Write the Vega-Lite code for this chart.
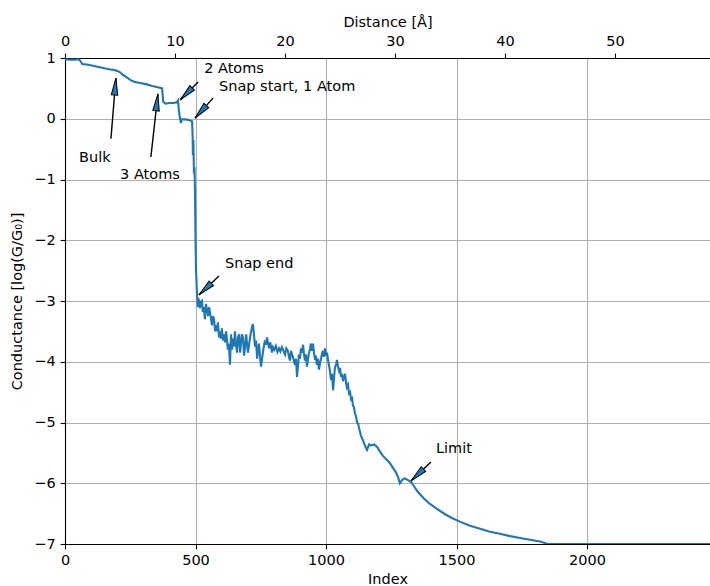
{
  "$schema": "https://vega.github.io/schema/vega-lite/v6.json",
  "width": 645,
  "height": 486,
  "autosize": {"type": "none"},
  "padding": {"left": 65, "top": 58, "right": 0, "bottom": 42},
  "background": "white",
  "config": {
    "view": {"stroke": null},
    "font": "DejaVu Sans",
    "axis": {
      "domainColor": "black",
      "domainWidth": 1.1,
      "tickColor": "black",
      "tickWidth": 1.1,
      "tickSize": 4.9,
      "labelFont": "DejaVu Sans",
      "labelFontSize": 14.5,
      "labelColor": "black",
      "labelPadding": 4.9,
      "labelFlush": false,
      "labelOverlap": false,
      "titleFont": "DejaVu Sans",
      "titleFontSize": 14.5,
      "titleFontWeight": "normal",
      "titleColor": "black",
      "gridColor": "#b0b0b0",
      "gridWidth": 1.1
    }
  },
  "datasets": {
    "trace": [
      {"index": 0, "logG": 0.98}, {"index": 20, "logG": 0.97}, {"index": 40, "logG": 0.97},
      {"index": 50, "logG": 0.98}, {"index": 57, "logG": 0.96}, {"index": 62, "logG": 0.93},
      {"index": 66, "logG": 0.9}, {"index": 90, "logG": 0.89}, {"index": 120, "logG": 0.86},
      {"index": 150, "logG": 0.83}, {"index": 175, "logG": 0.81}, {"index": 190, "logG": 0.8},
      {"index": 205, "logG": 0.78}, {"index": 212, "logG": 0.76}, {"index": 222, "logG": 0.72},
      {"index": 237, "logG": 0.68}, {"index": 250, "logG": 0.64}, {"index": 265, "logG": 0.61},
      {"index": 287, "logG": 0.59}, {"index": 310, "logG": 0.57}, {"index": 335, "logG": 0.54},
      {"index": 355, "logG": 0.52}, {"index": 372, "logG": 0.5}, {"index": 374, "logG": 0.4},
      {"index": 376, "logG": 0.28}, {"index": 385, "logG": 0.25}, {"index": 400, "logG": 0.26},
      {"index": 415, "logG": 0.26}, {"index": 428, "logG": 0.27}, {"index": 433, "logG": 0.3},
      {"index": 436, "logG": 0.15}, {"index": 440, "logG": 0.02}, {"index": 444, "logG": -0.07},
      {"index": 447, "logG": -0.01}, {"index": 460, "logG": -0.01}, {"index": 475, "logG": -0.02},
      {"index": 487, "logG": -0.04}, {"index": 489, "logG": -0.3}, {"index": 490, "logG": -0.6},
      {"index": 492, "logG": -0.35}, {"index": 494, "logG": -0.9}, {"index": 496, "logG": -0.8},
      {"index": 498, "logG": -1.2}, {"index": 500, "logG": -2.0}, {"index": 502, "logG": -2.5},
      {"index": 506, "logG": -2.92}, {"index": 509, "logG": -3.1}, {"index": 511, "logG": -2.95},
      {"index": 513, "logG": -3.05}, {"index": 515, "logG": -2.98},
      {"index": 517, "logG": -3.12}, {"index": 521, "logG": -3.02}, {"index": 525, "logG": -3.0},
      {"index": 528, "logG": -3.18}, {"index": 532, "logG": -3.1},
      {"index": 536, "logG": -3.3}, {"index": 540, "logG": -3.05}, {"index": 544, "logG": -3.15}, {"index": 548, "logG": -3.25}, {"index": 552, "logG": -3.1}, {"index": 555, "logG": -3.18},
      {"index": 559, "logG": -3.28}, {"index": 563, "logG": -3.4}, {"index": 567, "logG": -3.25}, {"index": 571, "logG": -3.3}, {"index": 575, "logG": -3.5}, {"index": 578, "logG": -3.4},
      {"index": 582, "logG": -3.5}, {"index": 586, "logG": -3.35}, {"index": 590, "logG": -3.6}, {"index": 594, "logG": -3.5}, {"index": 598, "logG": -3.62}, {"index": 601, "logG": -3.45},
      {"index": 605, "logG": -3.65}, {"index": 609, "logG": -3.55}, {"index": 613, "logG": -3.68}, {"index": 617, "logG": -3.5}, {"index": 621, "logG": -3.65}, {"index": 624, "logG": -3.8},
      {"index": 628, "logG": -3.7}, {"index": 632, "logG": -4.05}, {"index": 636, "logG": -3.55}, {"index": 640, "logG": -3.8}, {"index": 644, "logG": -3.62},
      {"index": 648, "logG": -3.75}, {"index": 651, "logG": -3.5}, {"index": 655, "logG": -3.7}, {"index": 659, "logG": -3.85}, {"index": 663, "logG": -3.6}, {"index": 667, "logG": -3.55},
      {"index": 671, "logG": -3.85}, {"index": 674, "logG": -3.7}, {"index": 678, "logG": -3.55}, {"index": 682, "logG": -3.6}, {"index": 686, "logG": -3.9}, {"index": 690, "logG": -3.75},
      {"index": 694, "logG": -3.55}, {"index": 697, "logG": -3.68}, {"index": 701, "logG": -3.85}, {"index": 705, "logG": -3.72}, {"index": 709, "logG": -3.6}, {"index": 713, "logG": -3.5},
      {"index": 717, "logG": -3.42}, {"index": 720, "logG": -3.38}, {"index": 724, "logG": -3.55}, {"index": 728, "logG": -3.75}, {"index": 732, "logG": -3.65}, {"index": 736, "logG": -3.95},
      {"index": 740, "logG": -3.8}, {"index": 743, "logG": -3.7}, {"index": 747, "logG": -3.9}, {"index": 751, "logG": -4.08}, {"index": 755, "logG": -3.95}, {"index": 759, "logG": -3.82},
      {"index": 763, "logG": -3.72}, {"index": 766, "logG": -3.65}, {"index": 770, "logG": -3.72}, {"index": 774, "logG": -3.6}, {"index": 778, "logG": -3.7}, {"index": 782, "logG": -3.78},
      {"index": 786, "logG": -3.68}, {"index": 789, "logG": -3.74}, {"index": 793, "logG": -3.85}, {"index": 797, "logG": -3.76}, {"index": 802, "logG": -3.8}, {"index": 808, "logG": -3.74},
      {"index": 814, "logG": -3.84}, {"index": 820, "logG": -3.78}, {"index": 825, "logG": -3.83}, {"index": 831, "logG": -3.76}, {"index": 837, "logG": -3.82}, {"index": 843, "logG": -3.88},
      {"index": 848, "logG": -3.78}, {"index": 854, "logG": -3.82}, {"index": 858, "logG": -3.92}, {"index": 862, "logG": -3.98}, {"index": 866, "logG": -3.82}, {"index": 870, "logG": -3.88},
      {"index": 875, "logG": -3.95}, {"index": 881, "logG": -4.05}, {"index": 885, "logG": -3.95}, {"index": 889, "logG": -4.25}, {"index": 893, "logG": -4.05}, {"index": 896, "logG": -3.88},
      {"index": 900, "logG": -3.95}, {"index": 904, "logG": -3.78}, {"index": 908, "logG": -3.85}, {"index": 912, "logG": -3.72}, {"index": 915, "logG": -3.85}, {"index": 919, "logG": -3.98},
      {"index": 923, "logG": -3.88}, {"index": 927, "logG": -4.08}, {"index": 931, "logG": -3.95}, {"index": 935, "logG": -3.85}, {"index": 939, "logG": -3.78}, {"index": 942, "logG": -3.7},
      {"index": 946, "logG": -3.82}, {"index": 950, "logG": -3.7}, {"index": 954, "logG": -3.85}, {"index": 958, "logG": -3.97}, {"index": 961, "logG": -3.9}, {"index": 965, "logG": -4.05},
      {"index": 969, "logG": -3.95}, {"index": 973, "logG": -4.13}, {"index": 977, "logG": -4.02}, {"index": 981, "logG": -3.95}, {"index": 984, "logG": -3.88}, {"index": 988, "logG": -3.82},
      {"index": 992, "logG": -3.92}, {"index": 996, "logG": -3.78}, {"index": 1000, "logG": -3.9}, {"index": 1004, "logG": -3.85}, {"index": 1008, "logG": -3.98}, {"index": 1011, "logG": -4.05},
      {"index": 1015, "logG": -4.15}, {"index": 1019, "logG": -4.3}, {"index": 1023, "logG": -4.2}, {"index": 1027, "logG": -4.47}, {"index": 1031, "logG": -4.25}, {"index": 1034, "logG": -4.1},
      {"index": 1038, "logG": -4.05}, {"index": 1042, "logG": -3.97}, {"index": 1046, "logG": -4.08}, {"index": 1050, "logG": -4.15}, {"index": 1054, "logG": -4.1}, {"index": 1057, "logG": -4.25},
      {"index": 1061, "logG": -4.2}, {"index": 1065, "logG": -4.32}, {"index": 1069, "logG": -4.25}, {"index": 1073, "logG": -4.2}, {"index": 1077, "logG": -4.35}, {"index": 1080, "logG": -4.42},
      {"index": 1084, "logG": -4.38}, {"index": 1088, "logG": -4.52}, {"index": 1092, "logG": -4.5}, {"index": 1096, "logG": -4.62}, {"index": 1100, "logG": -4.6}, {"index": 1103, "logG": -4.72},
      {"index": 1107, "logG": -4.75}, {"index": 1111, "logG": -4.85}, {"index": 1115, "logG": -4.9}, {"index": 1119, "logG": -5.0}, {"index": 1123, "logG": -5.02}, {"index": 1127, "logG": -5.1},
      {"index": 1134, "logG": -5.22}, {"index": 1142, "logG": -5.3}, {"index": 1149, "logG": -5.38},
      {"index": 1157, "logG": -5.45}, {"index": 1165, "logG": -5.36}, {"index": 1172, "logG": -5.38},
      {"index": 1184, "logG": -5.36}, {"index": 1195, "logG": -5.4}, {"index": 1207, "logG": -5.48},
      {"index": 1218, "logG": -5.55}, {"index": 1230, "logG": -5.6}, {"index": 1245, "logG": -5.67},
      {"index": 1257, "logG": -5.75}, {"index": 1268, "logG": -5.82}, {"index": 1276, "logG": -5.9},
      {"index": 1283, "logG": -6.0}, {"index": 1291, "logG": -5.95}, {"index": 1299, "logG": -5.92},
      {"index": 1306, "logG": -5.93}, {"index": 1314, "logG": -5.95}, {"index": 1326, "logG": -5.98},
      {"index": 1337, "logG": -6.05}, {"index": 1348, "logG": -6.12}, {"index": 1360, "logG": -6.18},
      {"index": 1375, "logG": -6.25}, {"index": 1398, "logG": -6.34}, {"index": 1425, "logG": -6.42},
      {"index": 1456, "logG": -6.51}, {"index": 1486, "logG": -6.58}, {"index": 1517, "logG": -6.64},
      {"index": 1552, "logG": -6.7}, {"index": 1590, "logG": -6.75}, {"index": 1628, "logG": -6.8},
      {"index": 1666, "logG": -6.83}, {"index": 1705, "logG": -6.87}, {"index": 1743, "logG": -6.9},
      {"index": 1781, "logG": -6.93}, {"index": 1820, "logG": -6.96}, {"index": 1850, "logG": -7.0},
      {"index": 2471, "logG": -7.0}
    ],
    "notes": [
      {"label": "Bulk", "tx": 54, "ty": -0.712, "ax": 176, "ay": -0.33, "px": 195, "py": 0.67},
      {"label": "3 Atoms", "tx": 211, "ty": -0.992, "ax": 329, "ay": -0.63, "px": 356, "py": 0.41},
      {"label": "2 Atoms", "tx": 533, "ty": 0.753, "ax": 510, "ay": 0.605, "px": 441, "py": 0.31},
      {"label": "Snap start, 1 Atom", "tx": 590, "ty": 0.457, "ax": 567, "ay": 0.34, "px": 498, "py": 0.01},
      {"label": "Snap end", "tx": 613, "ty": -2.457, "ax": 590, "ay": -2.59, "px": 513, "py": -2.9},
      {"label": "Limit", "tx": 1421, "ty": -5.502, "ax": 1402, "ay": -5.65, "px": 1326, "py": -5.96}
    ],
    "distance": [{"distance": 0}]
  },
  "layer": [
    {
      "layer": [
        {
          "data": {"name": "trace"},
          "mark": {"type": "line", "color": "#1f77b4", "strokeWidth": 2.1, "clip": true},
          "encoding": {
            "x": {
              "field": "index", "type": "quantitative",
              "scale": {"domain": [0, 2471], "nice": false, "zero": false},
              "axis": {"orient": "bottom", "title": "Index", "values": [0, 500, 1000, 1500, 2000], "grid": true, "format": "d", "titlePadding": 5}
            },
            "y": {
              "field": "logG", "type": "quantitative",
              "scale": {"domain": [-7, 1], "nice": false, "zero": false},
              "axis": {"title": "Conductance [log(G/G₀)]", "values": [-7, -6, -5, -4, -3, -2, -1, 0, 1], "grid": true, "format": "d", "titlePadding": 9}
            }
          }
        },
        {
          "data": {"name": "notes"},
          "mark": {"type": "rule", "color": "black", "strokeWidth": 1.4},
          "encoding": {
            "x": {"field": "ax", "type": "quantitative"},
            "y": {"field": "ay", "type": "quantitative"},
            "x2": {"field": "px"},
            "y2": {"field": "py"}
          }
        },
        {
          "data": {"name": "notes"},
          "transform": [
            {"calculate": "atan2(-(datum.ax - datum.px) * 645 / 2471, -(datum.ay - datum.py) * 486 / 8) * 180 / PI", "as": "headAngle"}
          ],
          "mark": {
            "type": "point",
            "shape": "M0,0 L0.19,1 L-0.19,1 Z",
            "filled": true,
            "fill": "#1f77b4",
            "stroke": "black",
            "strokeWidth": 1,
            "size": 1156,
            "opacity": 1
          },
          "encoding": {
            "x": {"field": "px", "type": "quantitative"},
            "y": {"field": "py", "type": "quantitative"},
            "angle": {"field": "headAngle", "type": "quantitative", "scale": null}
          }
        },
        {
          "data": {"name": "notes"},
          "mark": {"type": "text", "align": "left", "baseline": "alphabetic", "fontSize": 14.5, "color": "black", "font": "DejaVu Sans"},
          "encoding": {
            "x": {"field": "tx", "type": "quantitative"},
            "y": {"field": "ty", "type": "quantitative"},
            "text": {"field": "label"}
          }
        }
      ]
    },
    {
      "data": {"name": "distance"},
      "mark": {"type": "point", "opacity": 0},
      "encoding": {
        "x": {
          "field": "distance", "type": "quantitative",
          "scale": {"domain": [0, 58.64], "nice": false, "zero": false},
          "axis": {"orient": "top", "title": "Distance [Å]", "values": [0, 10, 20, 30, 40, 50], "grid": false, "format": "d", "titlePadding": 4}
        }
      }
    }
  ],
  "resolve": {"scale": {"x": "independent"}}
}
